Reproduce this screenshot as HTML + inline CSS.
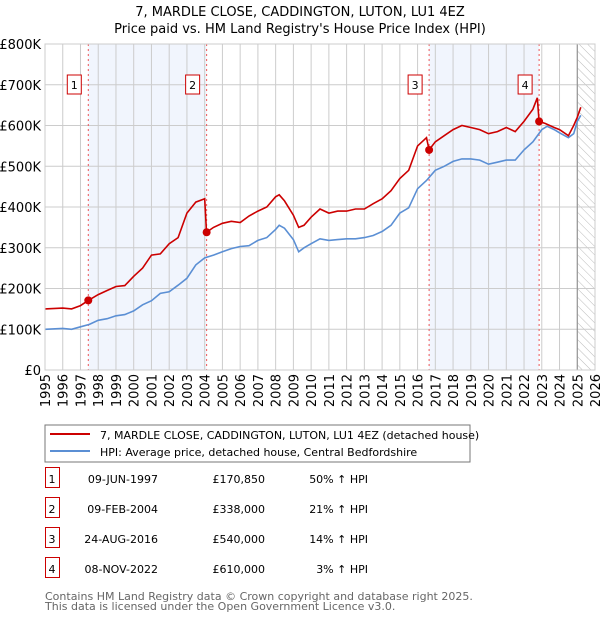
<!DOCTYPE html>
<html><head><meta charset="utf-8"><style>
body{margin:0;background:#fff;font-family:"DejaVu Sans","Liberation Sans",sans-serif;}
svg text{font-family:"DejaVu Sans","Liberation Sans",sans-serif;}
</style></head><body>
<svg id="c" width="600" height="620" xmlns="http://www.w3.org/2000/svg">
<defs><pattern id="hatch" width="6" height="6" patternUnits="userSpaceOnUse" patternTransform="rotate(-45)"><line x1="0" y1="0" x2="0" y2="6" stroke="#bbb" stroke-width="1"/></pattern></defs>
<text x="300" y="16" text-anchor="middle" font-size="13">7, MARDLE CLOSE, CADDINGTON, LUTON, LU1 4EZ</text>
<text x="300" y="33" text-anchor="middle" font-size="13">Price paid vs. HM Land Registry's House Price Index (HPI)</text>
<g id="plot"></g>
<rect x="45" y="425" width="425" height="37" fill="#fff" stroke="#777"/>
<line x1="50" y1="434" x2="90" y2="434" stroke="#cc0000" stroke-width="2"/>
<text x="100" y="439" font-size="11">7, MARDLE CLOSE, CADDINGTON, LUTON, LU1 4EZ (detached house)</text>
<line x1="50" y1="451" x2="90" y2="451" stroke="#5b8fd4" stroke-width="2"/>
<text x="100" y="456" font-size="11">HPI: Average price, detached house, Central Bedfordshire</text>
<g id="table" font-size="11"></g>
<text x="45" y="600" font-size="11" fill="#666">Contains HM Land Registry data © Crown copyright and database right 2025.</text>
<text x="45" y="610" font-size="11" fill="#666">This data is licensed under the Open Government Licence v3.0.</text>
</svg>
<script>
const hpiYears=[1995,1996,1996.5,1997,1997.5,1998,1998.5,1999,1999.5,2000,2000.5,2001,2001.5,2002,2002.5,2003,2003.5,2004,2004.5,2005,2005.5,2006,2006.5,2007,2007.5,2008,2008.2,2008.5,2009,2009.3,2009.6,2010,2010.5,2011,2011.5,2012,2012.5,2013,2013.5,2014,2014.5,2015,2015.5,2016,2016.5,2017,2017.5,2018,2018.5,2019,2019.5,2020,2020.5,2021,2021.5,2022,2022.5,2023,2023.3,2023.7,2024,2024.5,2024.8,2025,2025.2];
const hpiValues=[100,102,100,106,112,122,126,133,136,145,160,170,188,192,208,225,258,275,282,290,298,303,305,318,325,345,355,348,320,290,300,310,322,318,320,322,322,325,330,340,355,385,398,445,465,490,500,512,518,518,515,505,510,515,515,540,560,590,598,590,582,570,580,610,625];
const propYears=[1995,1996,1996.5,1997,1997.44,1998,1998.5,1999,1999.5,2000,2000.5,2001,2001.5,2002,2002.5,2003,2003.5,2004.0,2004.1,2004.5,2005,2005.5,2006,2006.5,2007,2007.5,2008,2008.2,2008.5,2009,2009.3,2009.6,2010,2010.5,2011,2011.5,2012,2012.5,2013,2013.5,2014,2014.5,2015,2015.5,2016,2016.5,2016.65,2017,2017.5,2018,2018.5,2019,2019.5,2020,2020.5,2021,2021.5,2022,2022.5,2022.75,2022.85,2023.2,2023.7,2024,2024.5,2024.8,2025,2025.2];
const propValues=[150,152,150,158,170.85,185,195,205,207,230,250,282,285,310,325,385,412,420,338,350,360,365,362,378,390,400,425,430,415,380,350,355,375,395,385,390,390,395,395,408,420,440,470,490,550,570,540,560,575,590,600,595,590,580,585,595,585,610,640,668,610,605,595,590,575,600,620,645];
const saleLabels=["1","2","3","4"];
const saleYears=[1997.44,2004.11,2016.65,2022.85];
const saleValues=[170.85,338,540,610];
const saleDates=["09-JUN-1997","09-FEB-2004","24-AUG-2016","08-NOV-2022"];
const salePrices=["£170,850","£338,000","£540,000","£610,000"];
const saleHpi=["50% ↑ HPI","21% ↑ HPI","14% ↑ HPI","3% ↑ HPI"];
const yTicks=[0,100,200,300,400,500,600,700,800];
const yTickLabels=["£0","£100K","£200K","£300K","£400K","£500K","£600K","£700K","£800K"];
const xTicks=[1995,1996,1997,1998,1999,2000,2001,2002,2003,2004,2005,2006,2007,2008,2009,2010,2011,2012,2013,2014,2015,2016,2017,2018,2019,2020,2021,2022,2023,2024,2025,2026];

const X0=45,X1=595,Y0=370,Y1=44;
const xs=y=>X0+(y-1995)/(2026-1995)*(X1-X0);
const ys=v=>Y0-v/800*(Y0-Y1);
const NS="http://www.w3.org/2000/svg";
const plot=document.getElementById('plot');
function mk(tag,attrs,parent){const e=document.createElementNS(NS,tag);for(const k in attrs)e.setAttribute(k,attrs[k]);(parent||plot).appendChild(e);return e;}

mk('rect',{x:X0,y:Y1,width:X1-X0,height:Y0-Y1,fill:'#fff'});
// shaded periods
for(let i=0;i<4;i+=2){
  const r=mk('rect',{x:xs(saleYears[i]),y:Y1,width:xs(saleYears[i+1])-xs(saleYears[i]),height:Y0-Y1,fill:'#eef3fd',opacity:0.8});
  
  
}
// hatch
const h=mk('rect',{x:xs(2025),y:Y1,width:X1-xs(2025),height:Y0-Y1,fill:'url(#hatch)'});


// grid
yTicks.forEach((v,i)=>{
  const l=mk('line',{x1:X0,x2:X1,y1:ys(v),y2:ys(v),stroke:'#ccc','stroke-width':1});
  
  
  const t=mk('text',{x:X0-4,y:ys(v)+5,'text-anchor':'end','font-size':13});
  t.textContent=yTickLabels[i];
  
  
});
xTicks.forEach(y=>{
  const l=mk('line',{x1:xs(y),x2:xs(y),y1:Y1,y2:Y0,stroke:'#ccc','stroke-width':1});
  
  
  const t=mk('text',{x:0,y:0,'text-anchor':'end','font-size':13,transform:`translate(${xs(y)+5},374) rotate(-90)`});
  t.textContent=y;
  
  
});
const v25=mk('line',{x1:xs(2025),x2:xs(2025),y1:Y1,y2:Y0,stroke:'#888','stroke-width':1});


// sale vlines + labels
saleYears.forEach((y,i)=>{
  const l=mk('line',{x1:xs(y),x2:xs(y),y1:Y1,y2:Y0,stroke:'#e55','stroke-width':1,'stroke-dasharray':'2,3'});
  
  
  const b=mk('rect',{x:xs(y)-21,y:75,width:14,height:19,fill:'#fff',stroke:'#c00'});
  
  
  const t=mk('text',{x:xs(y)-14,y:89,'text-anchor':'middle','font-size':11});
  t.textContent=saleLabels[i];
  
  
});
function path(xsArr,vArr){return xsArr.map((y,i)=>(i?'L':'M')+xs(y).toFixed(1)+','+ys(vArr[i]).toFixed(1)).join('');}
const hp=mk('path',{d:path(hpiYears,hpiValues),fill:'none',stroke:'#5b8fd4','stroke-width':1.6});


const pp=mk('path',{d:path(propYears,propValues),fill:'none',stroke:'#cc0000','stroke-width':1.6});


saleYears.forEach((y,i)=>{
  const c=mk('circle',{cx:xs(y),cy:ys(saleValues[i]),r:4,fill:'#cc0000'});
  
  
});
const fr=mk('rect',{x:X0,y:Y1,width:X1-X0,height:Y0-Y1,fill:'none',stroke:'#ccc'});


// table
const tb=document.getElementById('table');
saleLabels.forEach((s,i)=>{
  const y=483+i*30;
  const b=mk('rect',{x:45.5,y:y-15.5,width:14,height:20,fill:'#fff',stroke:'#c00'},tb);
  
  
  const cells=[[52,'middle',s],[158,'end',saleDates[i]],[265,'end',salePrices[i]],[368,'end',saleHpi[i]]];
  cells.forEach(([x,a,txt],j)=>{
    const t=mk('text',{x:x,y:y,'text-anchor':a,'font-size':11},tb);
    t.textContent=txt;
    
    
  });
});
</script>
</body></html>
